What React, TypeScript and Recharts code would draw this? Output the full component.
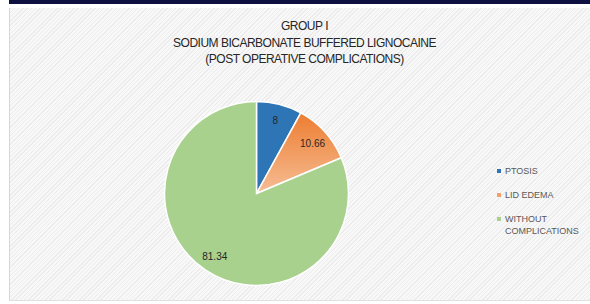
import { Cell, Legend, Pie, PieChart } from "recharts";

const categories = ["PTOSIS", "LID EDEMA", "WITHOUT COMPLICATIONS"];
const values = [8, 10.66, 81.34];
const colors = ["#2E75B6", "url(#orangeFade)", "#A9D18E"];
const legendColors = ["#2E75B6", "#F4A06A", "#A9D18E"];
const titleLines = ["GROUP I", "SODIUM BICARBONATE BUFFERED LIGNOCAINE", "(POST OPERATIVE COMPLICATIONS)"];

const data = categories.map((name, i) => ({ name, value: values[i] }));

const RAD = Math.PI / 180;

function renderLabel(props: any) {
  const { cx, cy, midAngle, outerRadius, value } = props;
  const r = outerRadius * 0.82;
  const x = cx + r * Math.cos(-midAngle * RAD);
  const y = cy + r * Math.sin(-midAngle * RAD);
  return (
    <text x={x} y={y} textAnchor="middle" dominantBaseline="central" fill="#262626" fontSize={10} fontFamily="'Liberation Sans', Arial, sans-serif">
      {value}
    </text>
  );
}

function LegendBox() {
  return (
    <div style={{ fontFamily: "'Liberation Sans', Arial, sans-serif", fontSize: 9, color: "#595959", width: 90 }}>
      {categories.map((c, i) => (
        <div key={c} style={{ display: "flex", alignItems: "flex-start", marginBottom: 12, lineHeight: "12px" }}>
          <span style={{ display: "inline-block", width: 4, height: 4, background: legendColors[i], marginTop: 4, marginRight: 4, flexShrink: 0 }} />
          <span>{c}</span>
        </div>
      ))}
    </div>
  );
}

export default function App() {
  return (
    <div style={{ position: "fixed", left: 0, top: 0, width: 590, height: 304, background: "#ffffff", overflow: "hidden" }}>
      <div style={{ position: "absolute", left: 9, top: 0, width: 581, height: 4, background: "#0E1040" }} />
      <div
        style={{
          position: "absolute",
          left: 9,
          top: 8,
          width: 581,
          height: 293,
          borderLeft: "1px solid #d6d6d6",
          borderBottom: "1px solid #e0e0e0",
          boxSizing: "border-box",
          background: "repeating-linear-gradient(135deg, #ececec 0px, #ececec 1px, #f8f8f8 1px, #f8f8f8 3px)",
        }}
      >
        <div style={{ position: "absolute", left: 0, top: 10, width: 589, textAlign: "center", fontFamily: "'Liberation Sans', Arial, sans-serif", fontSize: 12, letterSpacing: -0.5, lineHeight: "16.5px", color: "#262626" }}>
          {titleLines.map((t) => (
            <div key={t}>{t}</div>
          ))}
        </div>
        <PieChart width={580} height={292} margin={{ top: 0, right: 0, bottom: 0, left: 0 }} style={{ position: "absolute", left: -1, top: 0 }}>
          <defs>
            <linearGradient id="orangeFade" x1="0" y1="0" x2="0" y2="1">
              <stop offset="0%" stopColor="#ED7D31" />
              <stop offset="100%" stopColor="#F6BD94" />
            </linearGradient>
          </defs>
          <Pie
            data={data}
            dataKey="value"
            nameKey="name"
            cx={247.5}
            cy={185.5}
            outerRadius={92}
            startAngle={90}
            endAngle={-270}
            stroke="#ffffff"
            strokeWidth={1.5}
            label={renderLabel}
            labelLine={false}
            isAnimationActive={false}
          >
            {data.map((d, i) => (
              <Cell key={d.name} fill={colors[i]} />
            ))}
          </Pie>
          <Legend content={<LegendBox />} layout="vertical" wrapperStyle={{ position: "absolute", left: 488, top: 157, width: 90 }} />
        </PieChart>
      </div>
    </div>
  );
}
